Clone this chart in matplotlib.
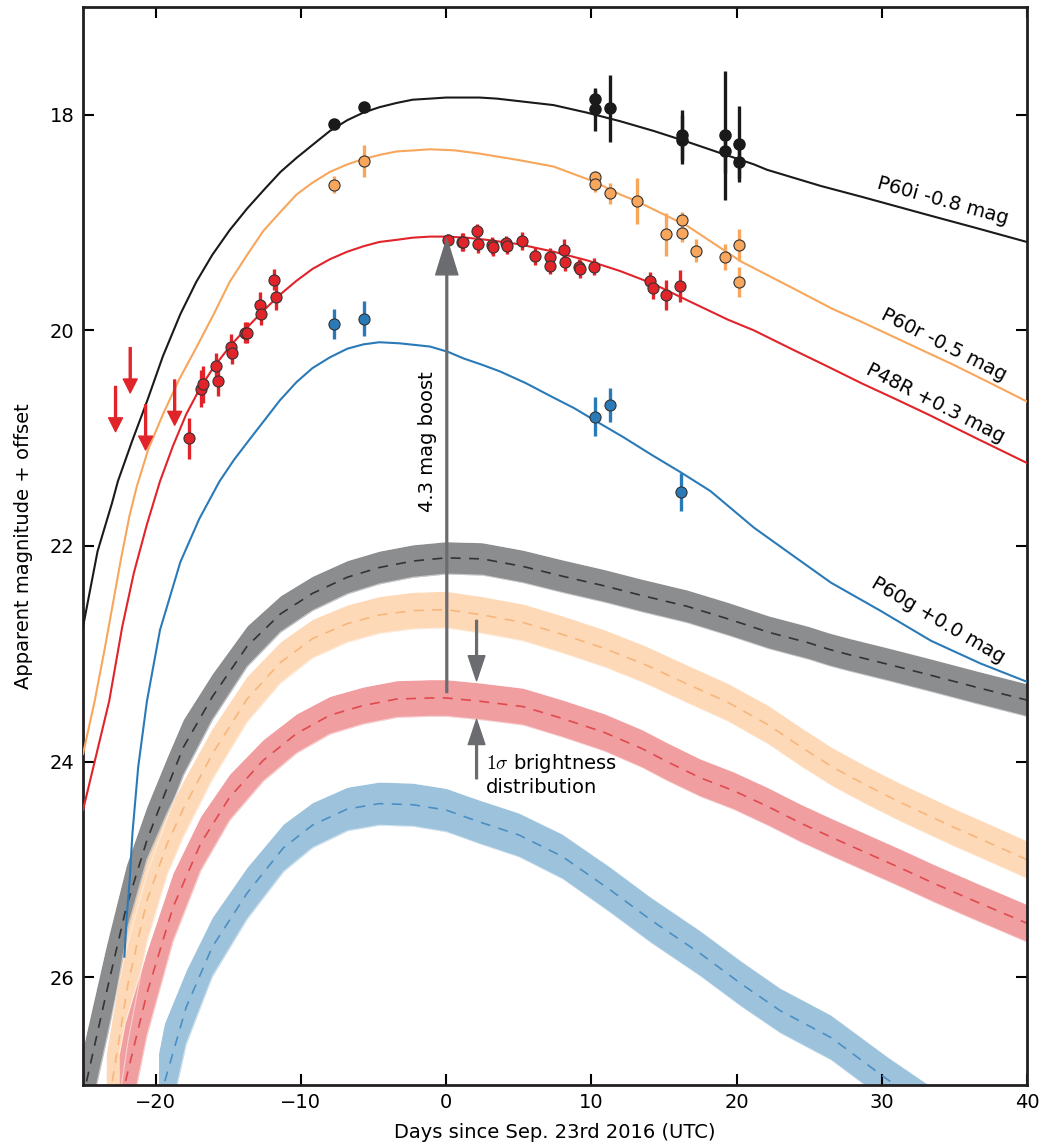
import matplotlib
matplotlib.use("Agg")
import matplotlib.pyplot as plt
import numpy as np

plt.rcParams['font.family'] = 'DejaVu Sans'
plt.rcParams['mathtext.fontset'] = 'cm'

# ---- model light curves (solid) ----
i_mod_x = [-25, -24, -23, -22.6, -21.6, -20.6, -19.5, -18.3, -17.2, -16.1, -14.9, -13.7, -12.5, -11.4,
           -10.3, -9.2, -8, -6.8, -5.7, -4.6, -3.4, -2.3, -1.1, 0, 1.2, 2.3, 3.5, 4.8, 7.4, 9.7, 12, 14.3,
           16.6, 19, 21.2, 22.1, 25.8, 28.6, 33.2, 36.5, 40]
i_mod_y = [22.75, 22.05, 21.6, 21.4, 21.02, 20.66, 20.24, 19.85, 19.55, 19.3, 19.07, 18.87, 18.69, 18.53,
           18.4, 18.28, 18.15, 18.05, 17.98, 17.93, 17.89, 17.86, 17.85, 17.84, 17.84, 17.84, 17.85, 17.87,
           17.91, 17.98, 18.06, 18.15, 18.25, 18.36, 18.46, 18.51, 18.66, 18.76, 18.93, 19.05, 19.18]

r_mod_x = [-25, -24.2, -23.5, -22.4, -21.8, -21.3, -20.5, -19.5, -18.4, -17.2, -16.0, -14.9, -13.7, -12.6,
           -11.4, -10.3, -9.2, -8, -6.8, -5.7, -4.5, -3.4, -2.2, -1.1, 0.6, 2.3, 5, 7.4, 10.2, 12, 13.1,
           16.6, 20.3, 23.9, 26.6, 28.6, 31.3, 33.2, 34.8, 37.5, 40]
r_mod_y = [23.93, 23.44, 22.95, 22.13, 21.72, 21.45, 21.1, 20.78, 20.46, 20.16, 19.85, 19.55, 19.3, 19.08,
           18.9, 18.74, 18.63, 18.53, 18.46, 18.41, 18.37, 18.34, 18.33, 18.32, 18.33, 18.36, 18.42, 18.48,
           18.62, 18.74, 18.8, 19.03, 19.36, 19.61, 19.8, 19.92, 20.09, 20.21, 20.31, 20.49, 20.66]

R_mod_x = [-25, -23.2, -22.3, -21.5, -20.6, -19.7, -18.8, -17.9, -17.0, -16.05, -14.9, -13.75, -12.6,
           -11.45, -10.3, -9.2, -8, -6.8, -5.7, -4.6, -3.4, -2.3, -1.1, 0, 1.4, 2.8, 5, 7.4, 9.7, 12, 14.3,
           16.6, 19.4, 21.2, 23.9, 26.2, 28.6, 31, 33.2, 36.5, 40]
R_mod_y = [24.45, 23.44, 22.75, 22.25, 21.8, 21.4, 21.07, 20.78, 20.55, 20.35, 20.15, 19.98, 19.82,
           19.67, 19.54, 19.43, 19.34, 19.27, 19.22, 19.18, 19.16, 19.14, 19.13, 19.13, 19.14, 19.16, 19.2,
           19.27, 19.35, 19.45, 19.57, 19.72, 19.9, 20.0, 20.18, 20.33, 20.49, 20.64, 20.78, 21.0, 21.23]

g_mod_x = [-22.15, -22.0, -21.8, -21.6, -21.2, -20.6, -19.7, -18.3, -17.0, -15.6, -14.6, -13.75, -12.6,
           -11.45, -10.3, -9.2, -8, -6.8, -5.7, -4.6, -3.2, -1.1, 0.15, 1.2, 2.5, 3.7, 5.5, 7.2, 8.8, 10.3,
           12.2, 14.1, 16.2, 18.2, 19.7, 21.2, 24.0, 26.5, 29.9, 33.4, 36.8, 40]
g_mod_y = [25.81, 25.45, 25.13, 24.67, 24.05, 23.44, 22.78, 22.15, 21.75, 21.4, 21.2, 21.05, 20.85,
           20.65, 20.48, 20.35, 20.25, 20.17, 20.13, 20.11, 20.12, 20.15, 20.2, 20.26, 20.32, 20.38, 20.49,
           20.61, 20.72, 20.84, 20.99, 21.15, 21.32, 21.49, 21.66, 21.83, 22.1, 22.34, 22.6, 22.88, 23.09,
           23.26]

# ---- dimmed models (dashed line + 1 sigma band) ----
i_band_x = [-25.3, -24.78, -23.4, -22.02, -20.6, -19.2, -18.1, -16.1, -13.7, -11.4, -9.2, -6.8, -4.6,
            -2.3, 0, 2.5, 5.3, 8, 10.9, 13.5, 16.6, 19.5, 22.2, 25, 26.4, 27.8, 30.5, 33.4, 36.5, 40]
i_band_y = [27.3, 26.98, 26.15, 25.35, 24.73, 24.24, 23.87, 23.4, 22.93, 22.63, 22.44, 22.29, 22.2,
            22.14, 22.11, 22.12, 22.19, 22.28, 22.37, 22.46, 22.56, 22.68, 22.8, 22.9, 22.96, 23.01,
            23.1, 23.2, 23.31, 23.43]

r_band_x = [-23.4, -23, -21.9, -20.6, -19.2, -18.1, -16.1, -13.7, -11.4, -9.2, -6.8, -4.6, -2.3, 0, 2.5,
            5.3, 8, 10.9, 13.7, 16.6, 19.4, 22.2, 24.5, 26.6, 28.8, 31.3, 34.8, 37.5, 40]
r_band_y = [27.3, 26.98, 26.06, 25.29, 24.76, 24.44, 23.93, 23.42, 23.08, 22.86, 22.72, 22.64, 22.6,
            22.59, 22.64, 22.71, 22.82, 22.95, 23.1, 23.28, 23.45, 23.66, 23.87, 24.05, 24.21, 24.38,
            24.6, 24.76, 24.91]

R_band_x = [-22.5, -22.1, -20.6, -18.8, -16.9, -14.9, -12.6, -10.3, -8, -5.7, -3.4, -1.1, 0, 2.3, 5.3, 8,
            10.9, 13.5, 15.2, 17.5, 19.8, 22.2, 24.4, 26.5, 29, 31.5, 33.6, 36.5, 40]
R_band_y = [27.3, 26.98, 26.15, 25.35, 24.76, 24.33, 23.99, 23.74, 23.57, 23.48, 23.42, 23.41, 23.41,
            23.44, 23.49, 23.6, 23.73, 23.88, 24.0, 24.15, 24.27, 24.42, 24.57, 24.7, 24.85, 25.0, 25.13,
            25.3, 25.5]

g_band_x = [-19.8, -19.4, -17.9, -16.1, -13.7, -11.2, -9.2, -6.8, -4.6, -2.3, 0, 2.3, 5, 8, 11.3, 14.1,
            17.5, 20.3, 23, 26.5, 30.4, 34]
g_band_y = [27.3, 26.98, 26.28, 25.72, 25.22, 24.8, 24.59, 24.44, 24.39, 24.4, 24.45, 24.56, 24.68, 24.88,
            25.19, 25.47, 25.78, 26.06, 26.31, 26.56, 26.95, 27.28]

# ---- photometry ----
i_t = [-7.72, -5.66, 10.28, 10.28, 11.31, 16.28, 16.28, 19.24, 19.24, 20.2, 20.2]
i_m = [18.09, 17.93, 17.85, 17.95, 17.94, 18.19, 18.23, 18.19, 18.34, 18.27, 18.44]
i_e = [0.03, 0.03, 0.08, 0.2, 0.31, 0.23, 0.23, 0.6, 0.2, 0.35, 0.15]

r_t = [-7.72, -5.66, 10.28, 10.28, 11.31, 13.17, 15.17, 16.28, 16.28, 17.24, 19.24, 20.2, 20.2]
r_m = [18.65, 18.43, 18.58, 18.64, 18.73, 18.8, 19.11, 18.98, 19.1, 19.26, 19.32, 19.21, 19.55]
r_e = [0.08, 0.15, 0.06, 0.08, 0.1, 0.21, 0.2, 0.08, 0.08, 0.11, 0.12, 0.15, 0.14]

R_t = [-17.7, -16.9, -16.74, -15.86, -15.7, -14.83, -14.71, -13.82, -13.7, -12.83, -12.71, -11.84, -11.72,
       0.16, 1.08, 1.2, 2.11, 2.23, 3.15, 3.26, 4.14, 4.18, 5.26, 6.14, 7.13, 7.17, 8.09, 8.21, 9.13, 9.24,
       10.16, 14.07, 14.25, 15.15, 16.14]
R_m = [21.0, 20.54, 20.5, 20.33, 20.47, 20.15, 20.21, 20.02, 20.02, 19.76, 19.85, 19.53, 19.69,
       19.16, 19.18, 19.18, 19.08, 19.2, 19.21, 19.23, 19.19, 19.22, 19.17, 19.31, 19.32, 19.4, 19.25, 19.37,
       19.41, 19.43, 19.41, 19.54, 19.61, 19.67, 19.59]
R_e = [0.19, 0.17, 0.17, 0.12, 0.14, 0.12, 0.1, 0.1, 0.1, 0.12, 0.1, 0.1, 0.12,
       0.05, 0.08, 0.08, 0.07, 0.08, 0.08, 0.08, 0.07, 0.07, 0.08, 0.08, 0.08, 0.08, 0.1, 0.08, 0.07, 0.08,
       0.08, 0.08, 0.1, 0.14, 0.15]

R_lim_t = [-22.76, -21.75, -20.69, -18.69]
R_lim_m = [20.52, 20.16, 20.69, 20.46]

g_t = [-7.7, -5.66, 10.28, 11.31, 16.2]
g_m = [19.94, 19.89, 20.8, 20.69, 21.5]
g_e = [0.14, 0.16, 0.18, 0.16, 0.18]

# colours
c_i, c_r, c_R, c_g = '#1a1a1a', '#f7a65c', '#e0242a', '#2a7ab8'
band_face = {'i': '#8c8d8f', 'r': '#fdd9b8', 'R': '#f09ea0', 'g': '#9dc3dc'}
band_dash = {'i': '#333333', 'r': '#f8b67a', 'R': '#e04a4f', 'g': '#4a8fc4'}
band_sig = {'i': 0.15, 'r': 0.17, 'R': 0.17, 'g': 0.2}
arrow_c = '#6b6c6f'

fig = plt.figure(figsize=(10.43, 11.47), dpi=100)
ax = fig.add_axes([0.0796, 0.0541, 0.905, 0.9398])

# bands: brightness spread plus ~0.7 d timing spread
for key, bx, by in [('i', i_band_x, i_band_y), ('r', r_band_x, r_band_y),
                    ('R', R_band_x, R_band_y), ('g', g_band_x, g_band_y)]:
    bx = np.array(bx)
    by = np.array(by)
    slope = np.gradient(by, bx)
    hw = np.sqrt(band_sig[key]**2 + (0.7 * slope)**2)
    ax.fill_between(bx, by - hw, by + hw, color=band_face[key], lw=0, zorder=1)
    ax.plot(bx, by - hw, color='white', lw=0.8, alpha=0.5, zorder=1.5)
    ax.plot(bx, by + hw, color='white', lw=0.8, alpha=0.5, zorder=1.5)
    ax.plot(bx, by, color=band_dash[key], lw=1.2, dashes=(6, 5), zorder=2)

# model curves
ax.plot(i_mod_x, i_mod_y, color=c_i, lw=1.5, zorder=3)
ax.plot(r_mod_x, r_mod_y, color=c_r, lw=1.5, zorder=3)
ax.plot(R_mod_x, R_mod_y, color=c_R, lw=1.5, zorder=3)
ax.plot(g_mod_x, g_mod_y, color=c_g, lw=1.5, zorder=3)

# data points
ax.errorbar(i_t, i_m, yerr=i_e, fmt='o', color=c_i, ms=8, mec=c_i, elinewidth=2.4, capsize=0, zorder=5)
ax.errorbar(r_t, r_m, yerr=r_e, fmt='o', color=c_r, ms=8, mec='#333333', mew=0.8,
            elinewidth=2.4, capsize=0, zorder=5)
ax.errorbar(R_t, R_m, yerr=R_e, fmt='o', color=c_R, ms=8, mec='#333333', mew=0.8,
            elinewidth=2.4, capsize=0, zorder=5)
ax.errorbar(g_t, g_m, yerr=g_e, fmt='o', color=c_g, ms=8, mec='#333333', mew=0.8,
            elinewidth=2.4, capsize=0, zorder=5)

# upper limits
for t, m in zip(R_lim_t, R_lim_m):
    ax.annotate('', xy=(t, m + 0.42), xytext=(t, m),
                arrowprops=dict(facecolor=c_R, edgecolor=c_R, width=1.4, headwidth=10,
                                headlength=10, shrink=0), zorder=5)

# 4.3 mag boost arrow
ax.annotate('', xy=(0.05, 19.15), xytext=(0.05, 23.36),
            arrowprops=dict(facecolor=arrow_c, edgecolor=arrow_c, width=1.3, headwidth=16,
                            headlength=26, shrink=0), zorder=6)
ax.text(-1.3, 21.03, '4.3 mag boost', rotation=90, ha='center', va='center', fontsize=14)

# 1 sigma arrows
ax.annotate('', xy=(2.1, 23.25), xytext=(2.1, 22.69),
            arrowprops=dict(facecolor=arrow_c, edgecolor=arrow_c, width=1.3, headwidth=12,
                            headlength=18, shrink=0), zorder=6)
ax.annotate('', xy=(2.1, 23.61), xytext=(2.1, 24.16),
            arrowprops=dict(facecolor=arrow_c, edgecolor=arrow_c, width=1.3, headwidth=12,
                            headlength=18, shrink=0), zorder=6)
ax.text(2.75, 24.12, '$1\\sigma$ brightness\ndistribution', ha='left', va='center', fontsize=14,
        linespacing=1.15)

# curve labels
for txt, x, y, rot in [('P60i -0.8 mag', 34.2, 18.80, -15.5),
                       ('P60r -0.5 mag', 34.3, 20.13, -27),
                       ('P48R +0.3 mag', 33.7, 20.68, -27),
                       ('P60g +0.0 mag', 33.9, 22.69, -30.5)]:
    ax.text(x, y, txt, rotation=rot, rotation_mode='anchor', ha='center', va='center', fontsize=14)

ax.set_xlim(-25, 40)
ax.set_ylim(27, 17)
ax.set_xticks([-20, -10, 0, 10, 20, 30, 40])
ax.set_yticks([18, 20, 22, 24, 26])
ax.tick_params(direction='in', length=8, width=1.5, labelsize=14, top=True, right=True, pad=6)
for s in ax.spines.values():
    s.set_linewidth(2)
    s.set_color('#231f20')
ax.set_xlabel('Days since Sep. 23rd 2016 (UTC)', fontsize=14, labelpad=8)
ax.set_ylabel('Apparent magnitude + offset', fontsize=14, labelpad=12)

fig.savefig('out.png', dpi=100)
